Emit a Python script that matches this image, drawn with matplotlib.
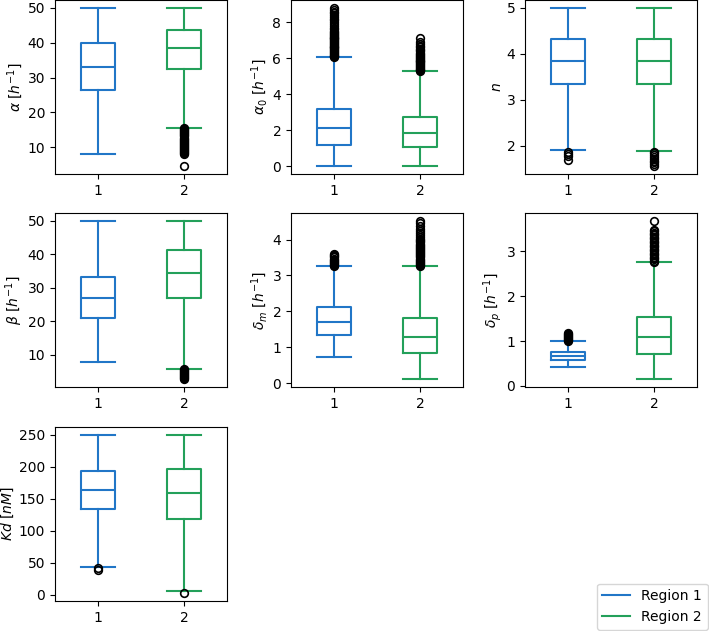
import numpy as np
import matplotlib
matplotlib.use("Agg")
import matplotlib.pyplot as plt
from matplotlib.lines import Line2D

# parameters, one panel each
labels = [r"$\alpha$ $[h^{-1}]$", r"$\alpha_0$ $[h^{-1}]$", r"$n$",
          r"$\beta$ $[h^{-1}]$", r"$\delta_m$ $[h^{-1}]$", r"$\delta_p$ $[h^{-1}]$",
          r"$Kd$ $[nM]$"]
regions = ["Region 1", "Region 2"]

# region 1 box stats (per panel)
r1_lo = [8.2, 0.0, 1.90, 7.8, 0.73, 0.42, 43]
r1_q1 = [26.4, 1.19, 3.35, 21.0, 1.34, 0.57, 134]
r1_med = [33.1, 2.12, 3.84, 26.9, 1.70, 0.66, 164]
r1_q3 = [39.8, 3.16, 4.32, 33.35, 2.11, 0.75, 194]
r1_hi = [50.0, 6.05, 5.0, 50.0, 3.26, 1.0, 250]

# region 2 box stats
r2_lo = [15.6, 0.0, 1.89, 5.8, 0.11, 0.15, 5.2]
r2_q1 = [32.4, 1.06, 3.35, 27.0, 0.83, 0.72, 119]
r2_med = [38.6, 1.86, 3.85, 34.3, 1.28, 1.10, 159]
r2_q3 = [43.7, 2.73, 4.33, 41.2, 1.81, 1.53, 196]
r2_hi = [50.0, 5.27, 5.0, 50.0, 3.26, 2.77, 250]

# outliers
r1_fliers = [
    [],
    [6.05, 6.1, 6.15, 6.2, 6.25, 6.3, 6.35, 6.4, 6.45, 6.5, 6.55, 6.6, 6.65,
     6.7, 6.75, 6.8, 6.85, 6.9, 6.95, 7.0, 7.05, 7.1, 7.15, 7.2, 7.25, 7.3,
     7.35, 7.4, 7.45, 7.5, 7.6, 7.7, 7.8, 7.9, 8.0, 8.1, 8.2, 8.3, 8.4, 8.5,
     8.6, 8.7, 8.8],
    [1.87, 1.83, 1.78, 1.69],
    [],
    [3.26, 3.29, 3.32, 3.35, 3.38, 3.41, 3.44, 3.47, 3.5, 3.53, 3.56, 3.6],
    [1.01, 1.03, 1.05, 1.07, 1.09, 1.11, 1.13, 1.15, 1.17],
    [41, 39],
]
r2_fliers = [
    [15.5, 15.2, 14.9, 14.6, 14.3, 14.0, 13.7, 13.4, 13.1, 12.8, 12.5, 12.2,
     11.9, 11.6, 11.3, 11.0, 10.7, 10.4, 10.1, 9.8, 9.5, 9.2, 8.9, 8.6, 8.3,
     8.0, 4.6],
    [5.27, 5.32, 5.37, 5.42, 5.47, 5.52, 5.57, 5.62, 5.67, 5.72, 5.77, 5.82,
     5.87, 5.92, 5.97, 6.02, 6.07, 6.12, 6.17, 6.22, 6.3, 6.38, 6.46, 6.54,
     6.62, 6.7, 6.8, 6.9, 7.15],
    [1.87, 1.84, 1.8, 1.76, 1.72, 1.68, 1.64, 1.6, 1.56],
    [5.7, 5.4, 5.1, 4.8, 4.5, 4.2, 3.9, 3.6, 3.3, 3.0, 2.7],
    [3.26, 3.29, 3.32, 3.35, 3.38, 3.41, 3.44, 3.47, 3.5, 3.53, 3.56, 3.59,
     3.62, 3.65, 3.68, 3.71, 3.74, 3.77, 3.8, 3.83, 3.86, 3.89, 3.92, 3.95,
     3.98, 4.02, 4.07, 4.12, 4.18, 4.24, 4.3, 4.38, 4.45, 4.52],
    [2.76, 2.79, 2.82, 2.85, 2.88, 2.91, 2.94, 2.97, 3.0, 3.03, 3.06, 3.09,
     3.12, 3.15, 3.18, 3.21, 3.24, 3.27, 3.3, 3.33, 3.36, 3.39, 3.42, 3.45,
     3.48, 3.68],
    [2.5],
]

colors = ["#2176c7", "#23a05a"]

W, H = 709, 631
fig = plt.figure(figsize=(W / 100, H / 100), dpi=100)

lefts = [55, 291, 525]
tops = [0, 213, 427]
aw, ah = 172, 174

for i in range(len(labels)):
    row, col = i // 3, i % 3
    ax = fig.add_axes([lefts[col] / W, 1 - (tops[row] + ah) / H, aw / W, ah / H])
    stats = [
        dict(med=r1_med[i], q1=r1_q1[i], q3=r1_q3[i], whislo=r1_lo[i],
             whishi=r1_hi[i], fliers=r1_fliers[i]),
        dict(med=r2_med[i], q1=r2_q1[i], q3=r2_q3[i], whislo=r2_lo[i],
             whishi=r2_hi[i], fliers=r2_fliers[i]),
    ]
    for k in range(2):
        c = colors[k]
        ax.bxp([stats[k]], positions=[k + 1], widths=0.4, capwidths=0.4,
               boxprops=dict(color=c, lw=1.5),
               whiskerprops=dict(color=c, lw=1.5),
               capprops=dict(color=c, lw=1.5),
               medianprops=dict(color=c, lw=1.5),
               flierprops=dict(marker="o", markerfacecolor="none",
                               markeredgecolor="black", markersize=5.5,
                               markeredgewidth=1.2))
    ax.set_xlim(0.5, 2.5)
    ax.set_xticks([1, 2])
    ax.set_xticklabels(["1", "2"])
    ax.set_ylabel(labels[i], fontsize=10, labelpad=2)
    ax.tick_params(labelsize=10)

handles = [Line2D([], [], color=colors[k], lw=1.5) for k in range(2)]
fig.legend(handles, regions, loc="lower right", bbox_to_anchor=(1.0, 0.0),
           borderaxespad=0.1, fontsize=10)

fig.savefig("out.png", dpi=100)
